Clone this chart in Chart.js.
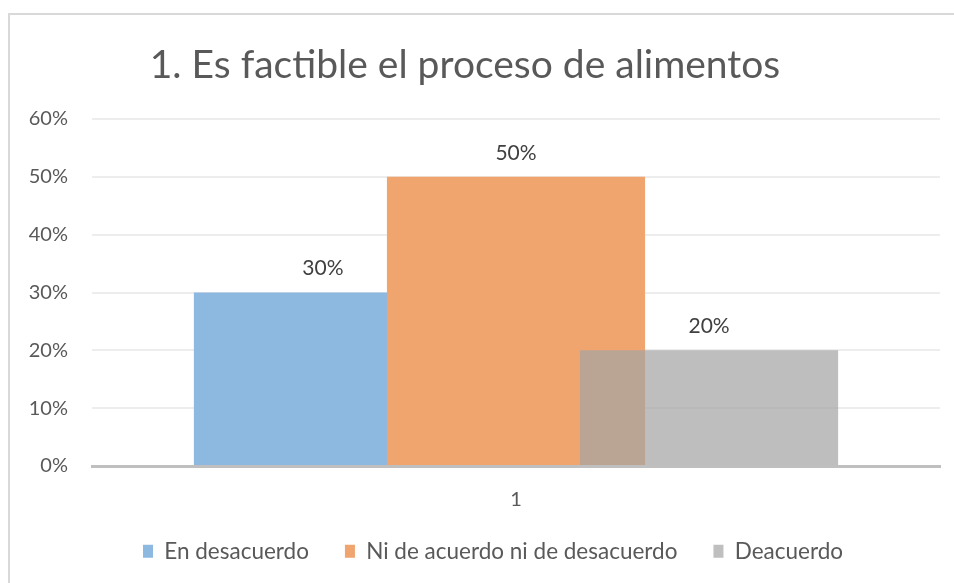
<!DOCTYPE html>
<html>
<head>
<meta charset="utf-8">
<script src="https://cdn.jsdelivr.net/npm/chart.js@4/dist/chart.umd.min.js"></script>
<style>
html,body{margin:0;padding:0;background:#fff;}
#wrap{width:954px;height:583px;position:relative;}
</style>
</head>
<body>
<div id="wrap"><canvas id="c" width="954" height="583"></canvas></div>
<script>
const titleText = "1. Es factible el proceso de alimentos";
const categories = ["1"];
const seriesNames = ["En desacuerdo", "Ni de acuerdo ni de desacuerdo", "Deacuerdo"];
const enDesacuerdo = [0.30];
const niDeAcuerdo = [0.50];
const deacuerdo = [0.20];
const yTicks = [0, 0.1, 0.2, 0.3, 0.4, 0.5, 0.6];

const colors = ["#8DB8E0", "#F0A46E", "rgba(165,165,165,0.72)"];
const legendColors = ["#8DB8E0", "#F0A46E", "#BFBFBF"];
const FONT = "Lato, 'Open Sans', sans-serif";

const LEG_FONT = 22.5, LEG_PAD = 36, LEG_MAXH = 60, PAD_BOTTOM = 7, X_AXIS_H = 50;

const frame = {
  id: 'frame',
  beforeDraw(chart) {
    const ctx = chart.ctx;
    ctx.save();
    ctx.fillStyle = '#fff';
    ctx.fillRect(0, 0, chart.width, chart.height);
    ctx.strokeStyle = '#D9D9D9';
    ctx.lineWidth = 2;
    ctx.strokeRect(9, 14, 960, 600);
    ctx.restore();
  }
};

// nudge title and legend boxes to the reference placement
const nudge = {
  id: 'nudge',
  afterLayout(chart) {
    const lg = chart.legend;
    if (lg) { lg.top -= 12; lg.bottom -= 12; lg.left -= 23; lg.right -= 23; }
    const tb = chart.titleBlock;
    if (tb) { tb.left -= 5; tb.right -= 5; }
  }
};

// draw datasets left to right so later series sit on top
const drawOrder = {
  id: 'drawOrder',
  beforeDatasetDraw() { return false; },
  afterDatasetsDraw(chart) {
    chart.data.datasets.forEach((ds, i) => {
      const meta = chart.getDatasetMeta(i);
      if (meta.visible !== false) meta.controller.draw();
    });
  }
};

const valueLabels = {
  id: 'valueLabels',
  afterDatasetsDraw(chart) {
    const ctx = chart.ctx;
    ctx.save();
    ctx.font = "21px " + FONT;
    ctx.fillStyle = '#404040';
    ctx.textAlign = 'center';
    ctx.textBaseline = 'middle';
    chart.data.datasets.forEach((ds, i) => {
      const meta = chart.getDatasetMeta(i);
      meta.data.forEach((el, j) => {
        ctx.fillText(Math.round(ds.data[j] * 100) + '%', el.x, el.y - 24);
      });
    });
    ctx.restore();
  }
};

new Chart(document.getElementById('c'), {
  type: 'bar',
  data: {
    labels: categories,
    datasets: [
      { label: seriesNames[0], data: enDesacuerdo, backgroundColor: colors[0] },
      { label: seriesNames[1], data: niDeAcuerdo, backgroundColor: colors[1] },
      { label: seriesNames[2], data: deacuerdo, backgroundColor: colors[2] }
    ]
  },
  options: {
    responsive: false,
    animation: false,
    devicePixelRatio: 1,
    categoryPercentage: 0.683,
    barPercentage: 1.337,
    layout: { padding: { left: 0, right: 14, top: 0, bottom: PAD_BOTTOM } },
    plugins: {
      title: {
        display: true,
        text: titleText,
        color: '#595959',
        font: { family: FONT, size: 39, weight: 'normal' },
        padding: { top: 42, bottom: 30.2 }
      },
      legend: {
        position: 'bottom',
        fullSize: false,
        maxHeight: LEG_MAXH,
        labels: {
          color: '#595959',
          font: { family: FONT, size: LEG_FONT },
          boxWidth: 10,
          boxHeight: 13,
          padding: LEG_PAD,
          generateLabels(chart) {
            return chart.data.datasets.map((ds, i) => ({
              text: ds.label,
              fillStyle: legendColors[i],
              strokeStyle: legendColors[i],
              lineWidth: 0,
              datasetIndex: i,
              fontColor: '#595959'
            }));
          }
        }
      },
      tooltip: { enabled: false }
    },
    scales: {
      x: {
        grid: { display: false, drawTicks: false },
        border: { display: true, color: '#BFBFBF', width: 3 },
        ticks: { color: '#595959', font: { family: FONT, size: 20 }, padding: 22 },
        afterFit(scale) { scale.height = X_AXIS_H; }
      },
      y: {
        min: 0,
        max: 0.6,
        afterBuildTicks(scale) { scale.ticks = yTicks.map(v => ({ value: v })); },
        afterFit(scale) { scale.width = 92; },
        grid: { color: '#EDEDED', lineWidth: 2, drawTicks: false },
        border: { display: false },
        ticks: {
          color: '#595959',
          font: { family: FONT, size: 20 },
          padding: 24,
          callback: v => Math.round(v * 100) + '%'
        }
      }
    }
  },
  plugins: [frame, nudge, drawOrder, valueLabels]
});
</script>
</body>
</html>
